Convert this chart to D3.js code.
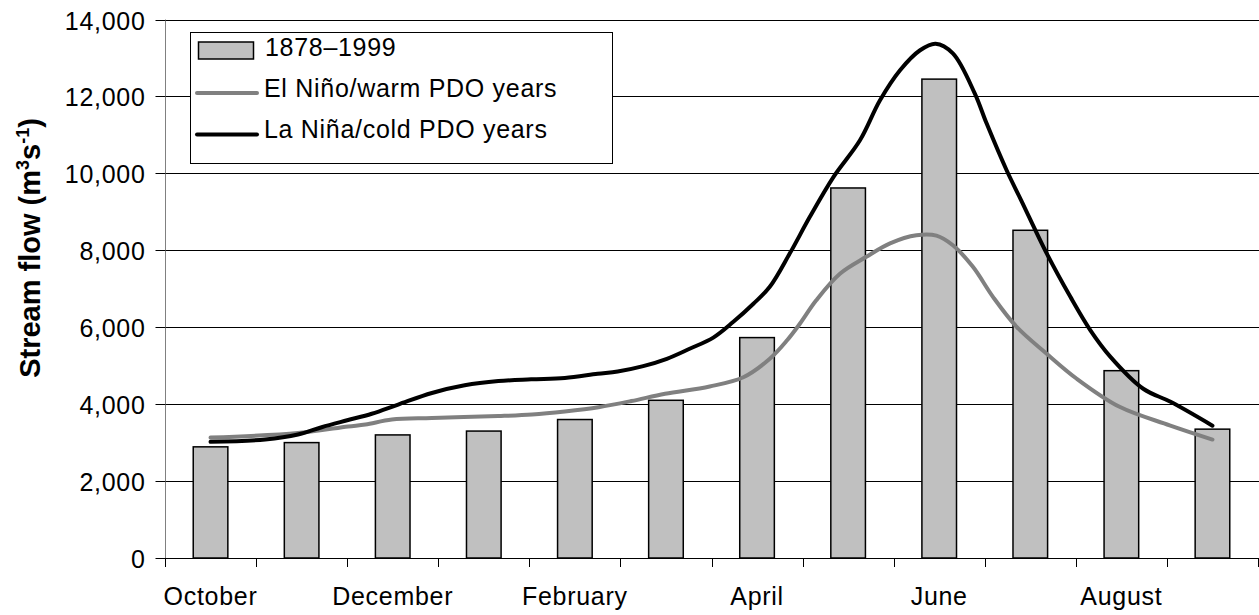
<!DOCTYPE html>
<html>
<head>
<meta charset="utf-8">
<script src="https://cdn.jsdelivr.net/npm/d3@7"></script>
<style>
	body { margin: 0; background: #fff; }
	svg { display: block; font-family: "Liberation Sans", Arial, sans-serif; }
	.tick-label { font-size: 25px; letter-spacing: 0.7px; fill: #000; }
</style>
</head>
<body>
<svg id="chart" width="1259" height="615"></svg>
<script>
// ________ data ________
const months = ['October', 'November', 'December', 'January', 'February', 'March',
	'April', 'May', 'June', 'July', 'August', 'September'];
const shownMonths = ['October', 'December', 'February', 'April', 'June', 'August'];
const yTicks = [0, 2000, 4000, 6000, 8000, 10000, 12000, 14000];

// mean monthly flow 1878–1999
const meanFlow = [2890, 3000, 3200, 3300, 3600, 4100, 5730, 9620, 12450, 8520, 4870, 3350];

// El Niño / warm PDO years (month offset from October, flow)
const elNinoMonth = [0, 0.96, 1.51, 1.7, 1.99, 2.43, 3.16, 3.53, 3.89, 4.26, 4.62, 4.99,
	5.48, 5.85, 6.14, 6.33, 6.47, 6.65, 6.91, 7.2, 7.46, 7.75, 7.97, 8.15, 8.37, 8.59,
	8.85, 9.18, 9.51, 9.98, 10.53, 11];
const elNinoFlow = [3130, 3250, 3420, 3470, 3600, 3640, 3690, 3730, 3810, 3920, 4080, 4270,
	4460, 4700, 5180, 5660, 6090, 6700, 7390, 7830, 8180, 8390, 8380, 8130, 7570, 6790,
	6010, 5310, 4660, 3930, 3450, 3080];

// La Niña / cold PDO years
const laNinaMonth = [0, 0.6, 0.96, 1.22, 1.5, 1.77, 2.06, 2.43, 2.79, 3.16, 3.52, 3.89,
	4.25, 4.47, 4.75, 5.01, 5.26, 5.52, 5.74, 5.96, 6.14, 6.36, 6.58, 6.84, 7.13, 7.35,
	7.57, 7.79, 7.96, 8.15, 8.39, 8.52, 8.74, 8.9, 9.18, 9.44, 9.66, 9.88, 10.24, 10.54, 11];
const laNinaFlow = [3020, 3080, 3210, 3400, 3580, 3750, 3990, 4290, 4490, 4600, 4645, 4680,
	4790, 4850, 4990, 5180, 5440, 5730, 6140, 6610, 7050, 7920, 8870, 9910, 10860, 11900,
	12680, 13200, 13370, 13120, 12080, 11300, 10080, 9300, 7920, 6790, 5920, 5230, 4400, 4060, 3440];

const legendItems = ['1878–1999', 'El Niño/warm PDO years', 'La Niña/cold PDO years'];

// ________ layout ________
const svg = d3.select('#chart');
const plotLeft = 165, plotRight = 1258, plotTop = 19.5, plotBottom = 558;

const x = d3.scaleBand().domain(months).range([plotLeft, plotRight]).paddingInner(0.62).paddingOuter(0.31);
const t = d3.scaleLinear().domain([-0.5, 11.5]).range([plotLeft, plotRight]);
const y = d3.scaleLinear().domain([0, 14000]).range([plotBottom, plotTop]);

// grid lines
svg.append('g')
	.selectAll('line')
	.data(yTicks.filter(d => d > 0))
	.enter()
	.append('line')
	.attr('x1', plotLeft).attr('x2', 1259)
	.attr('y1', d => Math.round(y(d)) + 0.5).attr('y2', d => Math.round(y(d)) + 0.5)
	.attr('stroke', '#000').attr('stroke-width', 1)

// y axis
const yAxis = svg.append('g')
	.attr('transform', `translate(${plotLeft + 0.5},0)`)
	.call(d3.axisLeft(y).tickValues(yTicks).tickSize(10).tickPadding(10).tickFormat(d3.format(',')))
yAxis.select('.domain').attr('stroke', '#808080').attr('d', `M0,${plotTop}V${plotBottom}`)
yAxis.selectAll('.tick line').attr('stroke', '#000')
yAxis.selectAll('.tick').attr('transform', d => `translate(0,${Math.round(y(d)) + 0.5})`)
yAxis.selectAll('.tick text')
	.attr('class', 'tick-label')
	.attr('dy', '0.36em')
yAxis.attr('font-family', null).attr('font-size', null)

// bars
svg.append('g')
	.selectAll('rect')
	.data(meanFlow)
	.enter()
	.append('rect')
	.attr('x', (d, i) => x(months[i]))
	.attr('width', x.bandwidth())
	.attr('y', d => y(d))
	.attr('height', d => y(0) - y(d))
	.attr('fill', '#c0c0c0')
	.attr('stroke', '#000')
	.attr('stroke-width', 1.5)

// x axis
svg.append('line')
	.attr('x1', plotLeft).attr('x2', plotRight + 1)
	.attr('y1', plotBottom + 0.5).attr('y2', plotBottom + 0.5)
	.attr('stroke', '#000')
svg.append('g')
	.selectAll('line')
	.data(d3.range(months.length + 1))
	.enter()
	.append('line')
	.attr('x1', i => Math.round(plotLeft + i * x.step()) + 0.5)
	.attr('x2', i => Math.round(plotLeft + i * x.step()) + 0.5)
	.attr('y1', plotBottom).attr('y2', plotBottom + 9)
	.attr('stroke', '#000')
svg.append('g')
	.selectAll('text')
	.data(shownMonths)
	.enter()
	.append('text')
	.attr('class', 'tick-label')
	.attr('x', d => x(d) + x.bandwidth() / 2)
	.attr('y', 605)
	.attr('text-anchor', 'middle')
	.text(d => d)

// lines
const line = d3.line()
	.x(d => t(d[0]))
	.y(d => y(d[1]))
	.curve(d3.curveCatmullRom.alpha(0.5))
const series = [
	{ pts: d3.zip(elNinoMonth, elNinoFlow), color: '#808080' },
	{ pts: d3.zip(laNinaMonth, laNinaFlow), color: '#000' }
]
svg.append('g')
	.selectAll('path')
	.data(series)
	.enter()
	.append('path')
	.attr('d', d => line(d.pts))
	.attr('fill', 'none')
	.attr('stroke', d => d.color)
	.attr('stroke-width', 4)
	.attr('stroke-linejoin', 'round')
	.attr('stroke-linecap', 'round')

// legend
const legend = svg.append('g')
legend.append('rect')
	.attr('x', 190.5).attr('y', 32.5).attr('width', 422).attr('height', 131)
	.attr('fill', '#fff').attr('stroke', '#000')
legend.append('rect')
	.attr('x', 198.5).attr('y', 42).attr('width', 55).attr('height', 17)
	.attr('fill', '#c0c0c0').attr('stroke', '#000').attr('stroke-width', 1.5)
legend.append('line')
	.attr('x1', 197).attr('x2', 257).attr('y1', 93).attr('y2', 93)
	.attr('stroke', '#808080').attr('stroke-width', 4).attr('stroke-linecap', 'round')
legend.append('line')
	.attr('x1', 197).attr('x2', 257).attr('y1', 134.5).attr('y2', 134.5)
	.attr('stroke', '#000').attr('stroke-width', 4).attr('stroke-linecap', 'round')
legend.selectAll('text')
	.data(legendItems)
	.enter()
	.append('text')
	.attr('class', 'tick-label')
	.attr('x', (d, i) => i === 0 ? 265 : 264)
	.attr('y', (d, i) => [56, 97, 138][i])
	.text(d => d)

// y title
const title = svg.append('text')
	.attr('transform', 'translate(40,248) rotate(-90)')
	.attr('text-anchor', 'middle')
	.attr('font-weight', 'bold')
	.attr('font-size', 29)
title.append('tspan').text('Stream flow (m')
title.append('tspan').attr('font-size', 18).attr('dy', -11).text('3')
title.append('tspan').attr('dy', 11).text('s')
title.append('tspan').attr('font-size', 18).attr('dy', -11).text('-1')
title.append('tspan').attr('dy', 11).text(')')
</script>
</body>
</html>
